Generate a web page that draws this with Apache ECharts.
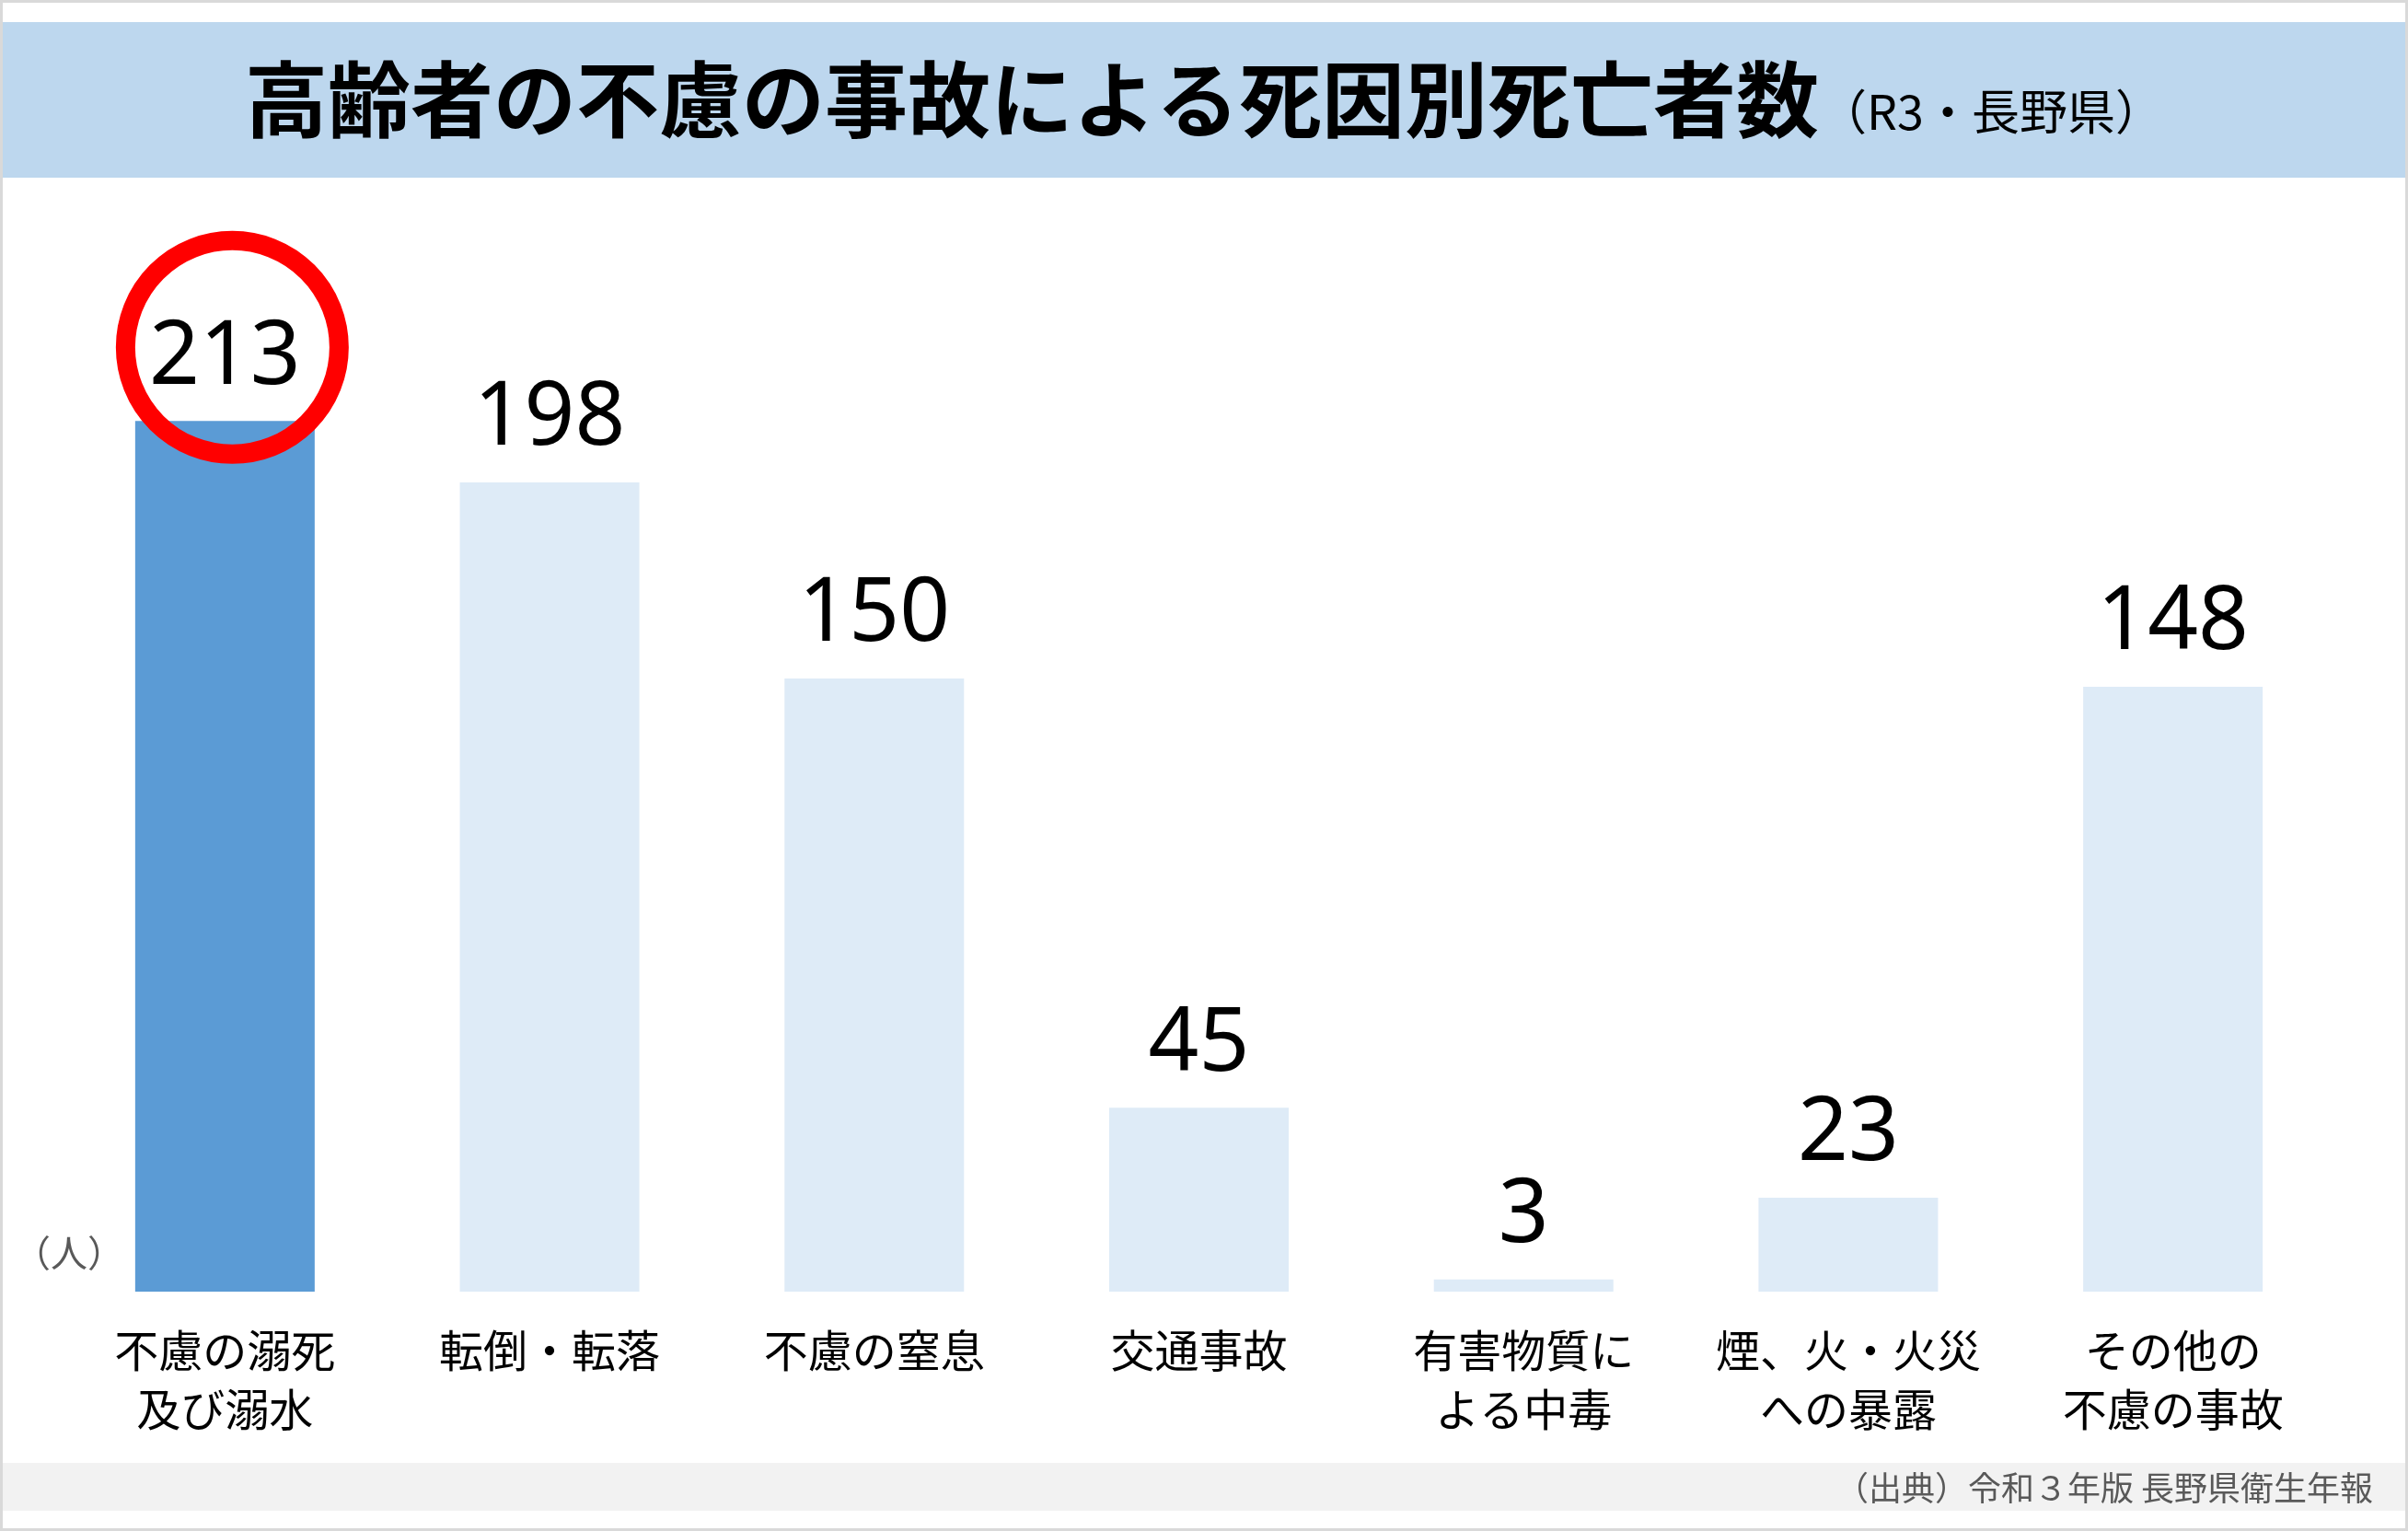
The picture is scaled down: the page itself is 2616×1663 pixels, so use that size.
<!DOCTYPE html>
<html>
<head>
<meta charset="utf-8">
<script src="https://cdn.jsdelivr.net/npm/echarts@6/dist/echarts.min.js"></script>
<style>
  html, body { margin: 0; padding: 0; background: #fff; }
  #chart { width: 2616px; height: 1663px; }
</style>
</head>
<body>
<div id="chart"></div>
<script>
// 死因カテゴリ
const categories = [
  '不慮の溺死\n及び溺水',
  '転倒・転落',
  '不慮の窒息',
  '交通事故',
  '有害物質に\nよる中毒',
  '煙、火・火災\nへの暴露',
  'その他の\n不慮の事故'
]
// 死亡者数（人）
const deaths = [213, 198, 150, 45, 3, 23, 148]
// 強調する項目
const highlightIndex = 0

const titleText = '高齢者の不慮の事故による死因別死亡者数'
const subTitleText = '（R3・長野県）'
const unitText = '（人）'
const sourceText = '（出典）令和３年版 長野県衛生年報'

const jpFont = '"Noto Sans CJK JP", "Noto Sans", sans-serif'
const numFont = '"Noto Sans", "Noto Sans CJK JP", sans-serif'

const chart = echarts.init(document.getElementById('chart'))

const option = {
  backgroundColor: '#ffffff',
  animation: false,
  title: {
    left: 'center',
    top: 38,
    text: '{a|' + titleText + '}{b|' + subTitleText + '}',
    textStyle: {
      rich: {
        a: {
          fontFamily: jpFont,
          fontSize: 90,
          fontWeight: 'bold',
          color: '#000000',
          lineHeight: 110,
          verticalAlign: 'bottom'
        },
        b: {
          fontFamily: jpFont,
          fontSize: 52,
          fontWeight: 'normal',
          color: '#000000',
          lineHeight: 110,
          verticalAlign: 'bottom',
          padding: [0, 0, 6, 0]
        }
      }
    }
  },
  grid: {
    left: 68,
    width: 2469,
    top: 293,
    bottom: 260
  },
  xAxis: {
    type: 'category',
    data: categories,
    axisLine: { show: false },
    axisTick: { show: false },
    axisLabel: {
      interval: 0,
      margin: 32,
      fontFamily: jpFont,
      fontSize: 48,
      lineHeight: 64,
      color: '#000000'
    }
  },
  yAxis: {
    type: 'value',
    min: 0,
    max: 250,
    show: false,
    splitLine: { show: false }
  },
  series: [
    {
      name: '死亡者数',
      type: 'bar',
      barWidth: 195,
      data: deaths.map((v, i) => ({
        value: v,
        itemStyle: { color: i === highlightIndex ? '#5b9bd5' : '#deebf7' }
      })),
      label: {
        show: true,
        position: 'top',
        distance: 20,
        fontFamily: numFont,
        fontSize: 96,
        color: '#000000'
      },
      z: 2
    }
  ],
  graphic: [
    {
      type: 'rect',
      z: -10,
      shape: { x: 3, y: 24, width: 2610, height: 169 },
      style: { fill: '#bdd7ee' },
      silent: true
    },
    {
      type: 'rect',
      z: -10,
      shape: { x: 3, y: 1589, width: 2610, height: 52 },
      style: { fill: '#f2f2f2' },
      silent: true
    },
    {
      type: 'rect',
      z: 100,
      shape: { x: 1.5, y: 1.5, width: 2613, height: 1660 },
      style: { fill: 'none', stroke: '#d9d9d9', lineWidth: 3 },
      silent: true
    },
    {
      type: 'text',
      x: 75,
      y: 1361,
      style: {
        text: unitText,
        fontFamily: jpFont,
        fontSize: 40,
        fill: '#595959',
        align: 'center',
        verticalAlign: 'middle'
      }
    },
    {
      type: 'text',
      x: 2578,
      y: 1616,
      style: {
        text: sourceText,
        fontFamily: jpFont,
        fontSize: 36,
        fill: '#595959',
        align: 'right',
        verticalAlign: 'middle'
      }
    }
  ]
}

chart.setOption(option)

// 強調の赤丸（棒の位置から算出）
const pt = chart.convertToPixel({ seriesIndex: 0 }, [highlightIndex, deaths[highlightIndex]])
chart.setOption({
  graphic: [
    {
      id: 'ring',
      type: 'circle',
      z: 50,
      shape: { cx: pt[0] + 8, cy: pt[1] - 80, r: 116 },
      style: { fill: 'none', stroke: '#ff0000', lineWidth: 21 },
      silent: true
    }
  ]
})
</script>
</body>
</html>
